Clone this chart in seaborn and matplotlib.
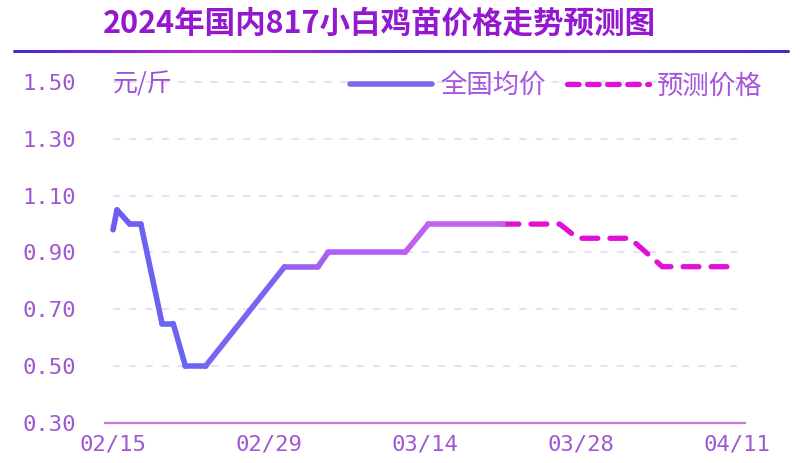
import numpy as np
import pandas as pd
import matplotlib.pyplot as plt
import seaborn as sns
from matplotlib.colors import LinearSegmentedColormap
from matplotlib.lines import Line2D

# days counted from 02/15
actual_days = [0, 0.36, 1.5, 2.5, 4.4, 5.4, 6.5, 8.3, 15.4, 18.4, 19.3, 26.2, 28.3, 35.0]
actual_price = [0.98, 1.05, 1.00, 1.00, 0.65, 0.65, 0.50, 0.50, 0.85, 0.85, 0.90, 0.90, 1.00, 1.00]
forecast_days = [35.0, 40.1, 41.7, 46.4, 49.3, 56]
forecast_price = [1.00, 1.00, 0.95, 0.95, 0.85, 0.85]

tick_days = [0, 14, 28, 42, 56]
tick_labels = ["02/15", "02/29", "03/14", "03/28", "04/11"]
y_ticks = [0.30, 0.50, 0.70, 0.90, 1.10, 1.30, 1.50]

title = "2024年国内817小白鸡苗价格走势预测图"
unit = "元/斤"
legend_names = ["全国均价", "预测价格"]

sns.set_theme(style="white")
plt.rcParams["font.family"] = ["Noto Sans CJK SC", "DejaVu Sans"]

fig = plt.figure(figsize=(8, 4.63), dpi=100)
ax = fig.add_axes([0.13125, 0.0864, 0.8, 0.7365])

# gradient for the actual price line, one colour per segment
line_cmap = LinearSegmentedColormap.from_list(
    "actual", ["#6f5cf0", "#6868f2", "#9a60f0", "#bf60f2", "#c462f2"])
df_act = pd.DataFrame({"day": actual_days, "price": actual_price})
for i in range(len(df_act) - 1):
    seg = df_act.iloc[i:i + 2]
    frac = seg["day"].mean() / actual_days[-1]
    sns.lineplot(data=seg, x="day", y="price", ax=ax, color=line_cmap(frac),
                 lw=4.0, solid_capstyle="round", solid_joinstyle="round", zorder=4)

df_fc = pd.DataFrame({"day": forecast_days, "price": forecast_price})
sns.lineplot(data=df_fc, x="day", y="price", ax=ax, color="#e010d8", lw=3.8,
             linestyle=(0, (3.0, 2.3)), dash_capstyle="round", zorder=3)

# dashed grid
grid_vals = y_ticks[1:]
ax.hlines(grid_vals, 0, 56, colors="#e8daf5", linestyles=(0, (4, 5)), lw=1.3,
          clip_on=False, zorder=1)

ax.set_xlim(-0.72, 56.72)
ax.set_ylim(0.30, 1.50)
ax.set_xlabel("")
ax.set_ylabel("")
for s in ["top", "right", "left"]:
    ax.spines[s].set_visible(False)
ax.spines["bottom"].set_color("#c47ad8")
ax.spines["bottom"].set_linewidth(1.6)

tick_color = "#9e58d2"
ax.set_xticks(tick_days)
ax.set_xticklabels(tick_labels, family="DejaVu Sans Mono", fontsize=16, color=tick_color)
ax.set_yticks(y_ticks)
ax.set_yticklabels([f"{v:.2f}" for v in y_ticks], family="DejaVu Sans Mono",
                   fontsize=16, color=tick_color)
ax.tick_params(axis="x", length=0, pad=8)
ax.tick_params(axis="y", length=0, pad=21)

fig.text(113 / 800, 1 - 84 / 463, unit, fontsize=18, color="#9a50d8",
         ha="left", va="center")

handles = [Line2D([0], [0], color="#7a6ae8", lw=4, solid_capstyle="round"),
           Line2D([0], [0], color="#e010d8", lw=3.8, linestyle=(0, (2.2, 1.6)),
                  dash_capstyle="round")]
leg = fig.legend(handles, legend_names, loc="center right",
                 bbox_to_anchor=(762 / 800, 1 - 86 / 463), ncol=2, frameon=False,
                 fontsize=19, handlelength=3.1, handletextpad=0.3,
                 columnspacing=0.8, borderpad=0, borderaxespad=0)
for t in leg.get_texts():
    t.set_color("#a455dc")

fig.text(379 / 800, 1 - 24 / 463, title, ha="center", va="center",
         fontsize=22, fontweight="bold", color="#9418d0")

# gradient rule under the title
rule_cmap = LinearSegmentedColormap.from_list(
    "rule", ["#4a2acb", "#cc22d6", "#5a2ad0", "#7a2ad8", "#4a2acb"])
edges = np.linspace(14, 788, 40)
for i in range(len(edges) - 1):
    frac = i / (len(edges) - 2)
    fig.add_artist(Line2D([edges[i] / 800, edges[i + 1] / 800],
                          [1 - 51 / 463, 1 - 51 / 463],
                          color=rule_cmap(frac), lw=2.2,
                          transform=fig.transFigure))

fig.savefig("out.png", dpi=100)
